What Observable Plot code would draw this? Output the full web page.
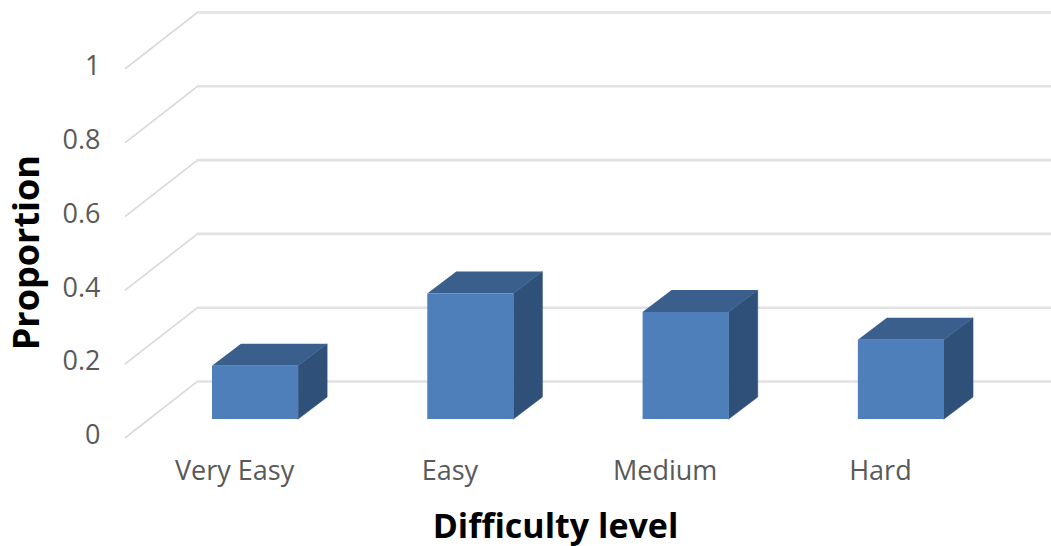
<!DOCTYPE html>
<html>
<head>
<meta charset="utf-8">
<script src="https://cdn.jsdelivr.net/npm/d3@7"></script>
<script src="https://cdn.jsdelivr.net/npm/@observablehq/plot@0.6"></script>
<style>
  html, body { margin: 0; padding: 0; background: #fff; }
  svg { display: block; }
</style>
</head>
<body>
<div id="chart"></div>
<script>
// Share of items at each difficulty level
const categories = ["Very Easy", "Easy", "Medium", "Hard"];
const proportions = [0.144, 0.34, 0.29, 0.215];
const yTicks = [0, 0.2, 0.4, 0.6, 0.8, 1];

// Oblique projection, in data units: how far the chart's floor and each bar recede
const floorDepth = {x: 0.3344, y: 0.1518};
const barDepth = {x: 0.1347, y: 0.0596};
const barBase = 0.0488;    // height of a bar's front edge above the front of the floor
const barHalfWidth = 0.2;
const axisEnd = 3.697;

const rows = categories.map((name, i) => ({name, i, v: proportions[i]}));

// Two-point tables for the receding faces of each bar
const topFace = rows.flatMap((d) => [0, 1].map((t) => ({
  i: d.i,
  x: d.i - barHalfWidth + t * barDepth.x,
  y1: barBase + d.v + t * barDepth.y,
  y2: barBase + d.v + t * barDepth.y,
  x2: d.i + barHalfWidth + t * barDepth.x
})));
const sideFace = rows.flatMap((d) => [0, 1].map((t) => ({
  i: d.i,
  x: d.i + barHalfWidth + t * barDepth.x,
  y1: barBase + t * barDepth.y,
  y2: barBase + d.v + t * barDepth.y
})));

const sideWalls = yTicks.flatMap((v) => [0, 1].map((t) => ({
  v,
  x: -0.604 + t * floorDepth.x,
  y: v + t * floorDepth.y
})));
const backWalls = yTicks.flatMap((v) => [0, axisEnd + 0.604 - floorDepth.x].map((run) => ({
  v,
  x: -0.604 + floorDepth.x + run,
  y: v + floorDepth.y
})));

const tickFont = "'Open Sans', sans-serif";

const chart = Plot.plot({
  width: 1051,
  height: 546,
  marginTop: 0,
  marginRight: 0,
  marginBottom: 109,
  marginLeft: 125,
  style: {background: "#fff", fontFamily: tickFont, overflow: "visible"},
  x: {domain: [-0.604, axisEnd], axis: null},
  y: {domain: [0, 437 / 369], axis: null},
  marks: [
    Plot.line(sideWalls, {x: "x", y: "y", z: "v", stroke: "#d9d9d9", strokeWidth: 1.6}),
    Plot.line(backWalls, {x: "x", y: "y", z: "v", stroke: "#e2e2e2", strokeWidth: 2.6}),

    Plot.axisY({
      ticks: yTicks,
      tickFormat: (d) => String(d),
      tickSize: 0,
      tickPadding: 25,
      label: null,
      fontSize: 27,
      dy: -2,
      color: "#595959"
    }),
    Plot.axisX({
      ticks: categories.map((_, i) => i),
      tickFormat: (i) => categories[i],
      tickSize: 0,
      tickPadding: 23,
      label: null,
      fontSize: 27,
      dx: -21,
      color: "#595959"
    }),

    Plot.areaY(sideFace, {x: "x", y1: "y1", y2: "y2", z: "i", fill: "#2f5078", stroke: "#2f5078", strokeWidth: 0.6, curve: "linear"}),
    Plot.area(topFace, {x1: "x", y1: "y1", x2: "x2", y2: "y2", z: "i", fill: "#3a5f8c", curve: "linear"}),
    Plot.rect(rows, {
      x1: (d) => d.i - barHalfWidth,
      x2: (d) => d.i + barHalfWidth,
      y1: barBase,
      y2: (d) => barBase + d.v,
      fill: "#4e7fbb"
    }),

    Plot.text(["Proportion"], {
      x: -1.058, y: 0.501, rotate: -90, text: (d) => d,
      fontSize: 36, fontWeight: 700, fill: "#000"
    }),
    Plot.text(["Difficulty level"], {
      x: 1.393, y: -0.243, text: (d) => d,
      fontSize: 34, fontWeight: 700, fill: "#000"
    })
  ]
});
document.getElementById("chart").appendChild(chart);
</script>
</body>
</html>
